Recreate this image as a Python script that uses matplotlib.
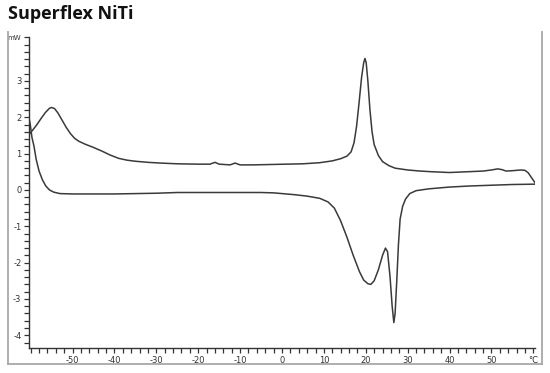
import matplotlib
matplotlib.use("Agg")
import matplotlib.pyplot as plt
from matplotlib.lines import Line2D
from matplotlib.ticker import FixedLocator, FixedFormatter, MultipleLocator

title = "Superflex NiTi"

# Upper trace (exothermic peak near 20 °C)
upper_x = [-60.2, -59.5, -58.5, -57.5, -56.5, -55.5, -55.0, -54.3, -53.5, -52.5, -51.5,
           -50.5, -49.5, -48.5, -47.0, -45.0, -43.0, -41.0, -39.0, -37.0, -35.0, -32.0,
           -29.0, -25.0, -20.0, -17.2, -16.0, -15.0, -12.4, -11.2, -10.0, -7.0, -3.0,
           1.0, 5.0, 9.0, 12.0, 14.0, 15.5, 16.5, 17.2, 17.8, 18.4, 19.0, 19.5, 19.8,
           20.1, 20.5, 21.0, 21.5, 22.0, 23.0, 24.0, 25.5, 27.0, 30.0, 33.0, 36.0, 40.0,
           44.0, 48.0, 50.0, 51.5, 52.5, 53.5, 55.0, 57.0, 58.0, 58.8, 59.5, 60.4]
upper_y = [1.55, 1.65, 1.80, 1.97, 2.13, 2.25, 2.27, 2.24, 2.12, 1.92, 1.72,
           1.55, 1.42, 1.34, 1.26, 1.17, 1.07, 0.96, 0.87, 0.82, 0.79, 0.76,
           0.74, 0.72, 0.71, 0.71, 0.76, 0.71, 0.69, 0.74, 0.69, 0.69, 0.70,
           0.71, 0.72, 0.75, 0.80, 0.86, 0.93, 1.05, 1.30, 1.75, 2.40, 3.10, 3.50, 3.62,
           3.50, 3.00, 2.20, 1.60, 1.25, 0.95, 0.78, 0.67, 0.60, 0.55, 0.52, 0.50, 0.48,
           0.50, 0.52, 0.55, 0.58, 0.56, 0.52, 0.53, 0.55, 0.54, 0.47, 0.35, 0.20]

# Lower trace (endothermic double peak near 21 / 27 °C)
lower_x = [-60.6, -60.35, -60.1, -59.7, -59.2, -58.7, -58.0, -57.2, -56.4, -55.5, -54.5,
           -53.0, -50.0, -45.0, -40.0, -35.0, -30.0, -25.0, -15.0, -5.0, -2.0, 0.0,
           3.0, 6.0, 9.0, 11.0, 12.5, 14.0, 15.5, 17.0, 18.5, 19.5, 20.5, 21.2, 22.0,
           23.0, 24.0, 24.7, 25.2, 25.8, 26.3, 26.7, 27.0, 27.4, 27.8, 28.2, 28.8, 29.5,
           30.5, 32.0, 35.0, 40.0, 45.0, 50.0, 55.0, 60.6]
lower_y = [1.55, 1.95, 1.80, 1.45, 1.20, 0.85, 0.52, 0.28, 0.11, 0.00, -0.06,
           -0.10, -0.11, -0.11, -0.11, -0.10, -0.09, -0.07, -0.07, -0.07, -0.08, -0.10,
           -0.13, -0.17, -0.23, -0.33, -0.50, -0.85, -1.30, -1.80, -2.25, -2.48, -2.58, -2.60, -2.50,
           -2.20, -1.80, -1.60, -1.70, -2.40, -3.20, -3.65, -3.40, -2.50, -1.50, -0.80, -0.45, -0.25,
           -0.10, -0.02, 0.03, 0.08, 0.11, 0.13, 0.15, 0.16]

x_ticks = [-50, -40, -30, -20, -10, 0, 10, 20, 30, 40, 50, 60]
x_labels = ["-50", "-40", "-30", "-20", "-10", "0", "10", "20", "30", "40", "50", "°C"]
y_ticks = [-4, -3, -2, -1, 0, 1, 2, 3, 4.2]
y_labels = ["-4", "-3", "-2", "-1", "0", "1", "2", "3", "mW"]

W, H = 550, 373
fig = plt.figure(figsize=(W / 100, H / 100), dpi=100)
ax = fig.add_axes([29 / W, 1 - 348 / H, (535 - 29) / W, (348 - 37) / H])

line_color = "#3a3a3a"
ax.plot(upper_x, upper_y, color=line_color, lw=1.1)
ax.plot(lower_x, lower_y, color=line_color, lw=1.1)

ax.set_xlim(-60.4, 60.4)
ax.set_ylim(-4.35, 4.21)

for s in ["top", "right"]:
    ax.spines[s].set_visible(False)
for s in ["left", "bottom"]:
    ax.spines[s].set_color("#333333")
    ax.spines[s].set_linewidth(1.0)

ax.xaxis.set_major_locator(FixedLocator(x_ticks))
ax.xaxis.set_major_formatter(FixedFormatter(x_labels))
ax.xaxis.set_minor_locator(MultipleLocator(2))
ax.yaxis.set_major_locator(FixedLocator(y_ticks))
ax.yaxis.set_major_formatter(FixedFormatter(y_labels))
ax.yaxis.set_minor_locator(MultipleLocator(0.2))

ax.tick_params(which="both", direction="out", length=3.5, width=0.9, color="#333333",
               labelsize=6, labelcolor="#333333", pad=2)
ax.get_yticklabels()[-1].set_fontsize(5)

# light grey frame around plot area (open at top)
frame_color = "#a8a8a8"
fig.add_artist(Line2D([8 / W, 8 / W], [1 - 32 / H, 1 - 364 / H], color=frame_color, lw=1.3,
                      transform=fig.transFigure))
fig.add_artist(Line2D([8 / W, 542 / W], [1 - 364 / H, 1 - 364 / H], color=frame_color, lw=1.3,
                      transform=fig.transFigure))
fig.add_artist(Line2D([542 / W, 542 / W], [1 - 364 / H, 1 - 32 / H], color=frame_color, lw=1.3,
                      transform=fig.transFigure))

fig.text(8 / W, 1 - 14 / H, title, ha="left", va="center", fontsize=13, fontweight="bold",
         family=["Open Sans", "DejaVu Sans"], color="#111111")

fig.savefig("out.png", dpi=100)
